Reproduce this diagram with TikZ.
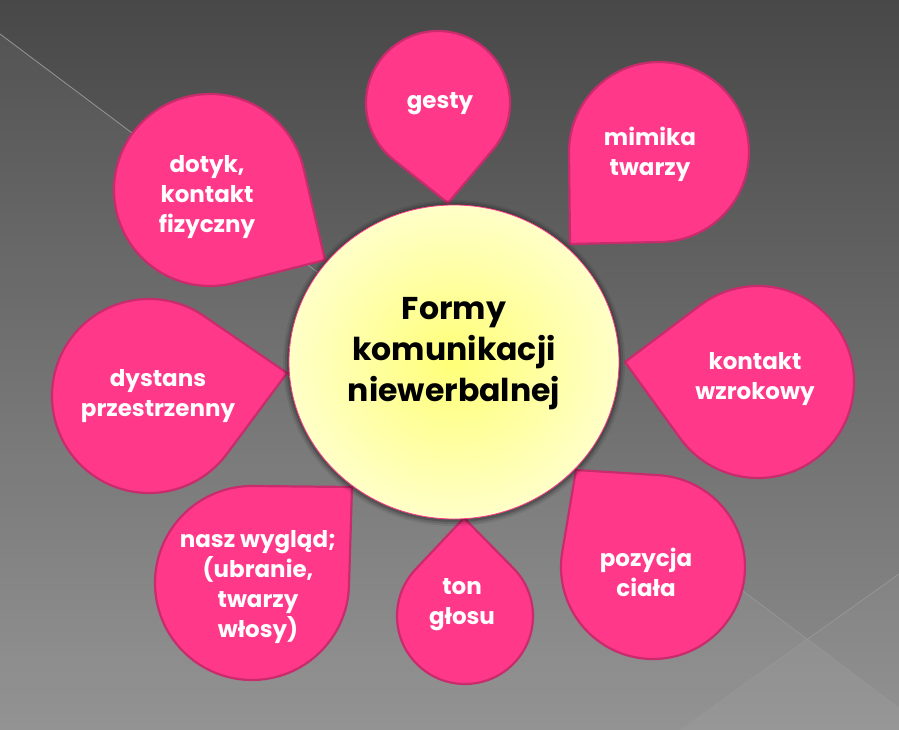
\documentclass[tikz,border=0pt]{standalone}
\usepackage{fontspec}
\setmainfont{Poppins}
\usetikzlibrary{calc}
\definecolor{pinkfill}{RGB}{255,56,138}
\definecolor{pinkline}{RGB}{200,44,108}
\definecolor{bgtop}{RGB}{72,72,72}
\definecolor{bgbot}{RGB}{142,142,142}
\definecolor{bgline}{RGB}{150,150,150}
\definecolor{ylwin}{RGB}{255,255,120}
\definecolor{ylwout}{RGB}{255,255,200}
\tikzset{
  petal/.style={fill=pinkfill, draw=pinkline, line width=2.2pt, line join=round},
  petaltext/.style={text=white, font=\bfseries\fontsize{23}{30}\selectfont, align=center, inner sep=0pt},
  centertext/.style={text=black, font=\bfseries\fontsize{31.5}{41}\selectfont, align=center, inner sep=0pt},
  bgrule/.style={draw=bgline, line width=0.8pt}
}
\newcommand\petal[7]{%
  \pgfmathsetmacro\pdx{#5-#2}%
  \pgfmathsetmacro\pdy{#3-#6}%
  \pgfmathsetmacro\pth{atan2(\pdy,\pdx)}%
  \pgfmathsetmacro\pdd{veclen(\pdx,\pdy)}%
  \pgfmathsetmacro\pph{acos(min(1,#4/\pdd))}%
  \pgfmathsetmacro\pa{\pth+\pph}%
  \pgfmathsetmacro\pb{\pth-\pph+360}%
  \coordinate (#1-c) at (#2,-#3);
  \coordinate (#1-tip) at (#5,-#6);
  \draw[petal] (#1-tip) -- ($(#1-c)+(\pa:#4)$) arc[start angle=\pa, end angle=\pb, radius=#4] -- cycle;
}
\begin{document}
\begin{tikzpicture}[x=1pt,y=1pt]
\useasboundingbox (0,0) rectangle (899,-730);
% background
\shade[top color=bgtop, bottom color=bgbot] (0,0) rectangle (899,-730);
\fill[white, opacity=0.05] (0,-34) -- (899,-708) -- (899,-730) -- (0,-730) -- cycle;
\fill[white, opacity=0.04] (680,-730) -- (899,-574) -- (899,-730) -- cycle;
\coordinate (l1a) at (0,-34);
\coordinate (l1b) at (899,-708);
\coordinate (l2a) at (680,-730);
\coordinate (l2b) at (899,-574);
\draw[bgrule] (l1a) -- (l1b);
\draw[bgrule] (l2a) -- (l2b);
% petals
\petal{gesty}{438}{103}{72}{448}{203}{}
\petal{mimika}{659}{152}{90}{570}{244}{}
\petal{wzrok}{758}{382}{96}{625}{362}{}
\petal{poz}{653}{567}{92}{576}{470}{}
\petal{ton}{465}{616}{68}{464}{518}{}
\petal{wyglad}{252}{583}{97}{352}{487}{}
\petal{dystans}{149}{396}{97}{287}{373}{}
\petal{dotyk}{210}{190}{96}{325}{260}{}
% center circle shadow and fill
\foreach \k/\o in {6/0.08,4/0.12,2/0.18}{
  \fill[black, opacity=\o] (454,-363) ellipse[x radius=165+\k, y radius=157+\k];
}
\shade[inner color=ylwin, outer color=ylwout, draw=pinkfill, line width=0.8pt]
  (454,-362) ellipse[x radius=165, y radius=157];
\node[centertext] (center) at (454,-354) {Formy\\komunikacji\\niewerbalnej};
% petal texts
\node[petaltext] (tgesty) at (440,-104) {gesty};
\node[petaltext] (tmimika) at (650,-154) {mimika\\twarzy};
\node[petaltext] (twzrok) at (755,-379) {kontakt\\wzrokowy};
\node[petaltext] (tpoz) at (646,-572) {pozycja\\ciała};
\node[petaltext] (tton) at (462,-605) {ton\\głosu};
\node[petaltext] (twyglad) at (258,-587) {nasz wygląd;\\(ubranie,\\twarzy\\włosy)};
\node[petaltext] (tdystans) at (158,-396) {dystans\\przestrzenny};
\node[petaltext] (tdotyk) at (207,-197) {dotyk,\\kontakt\\fizyczny};
\end{tikzpicture}
\end{document}
